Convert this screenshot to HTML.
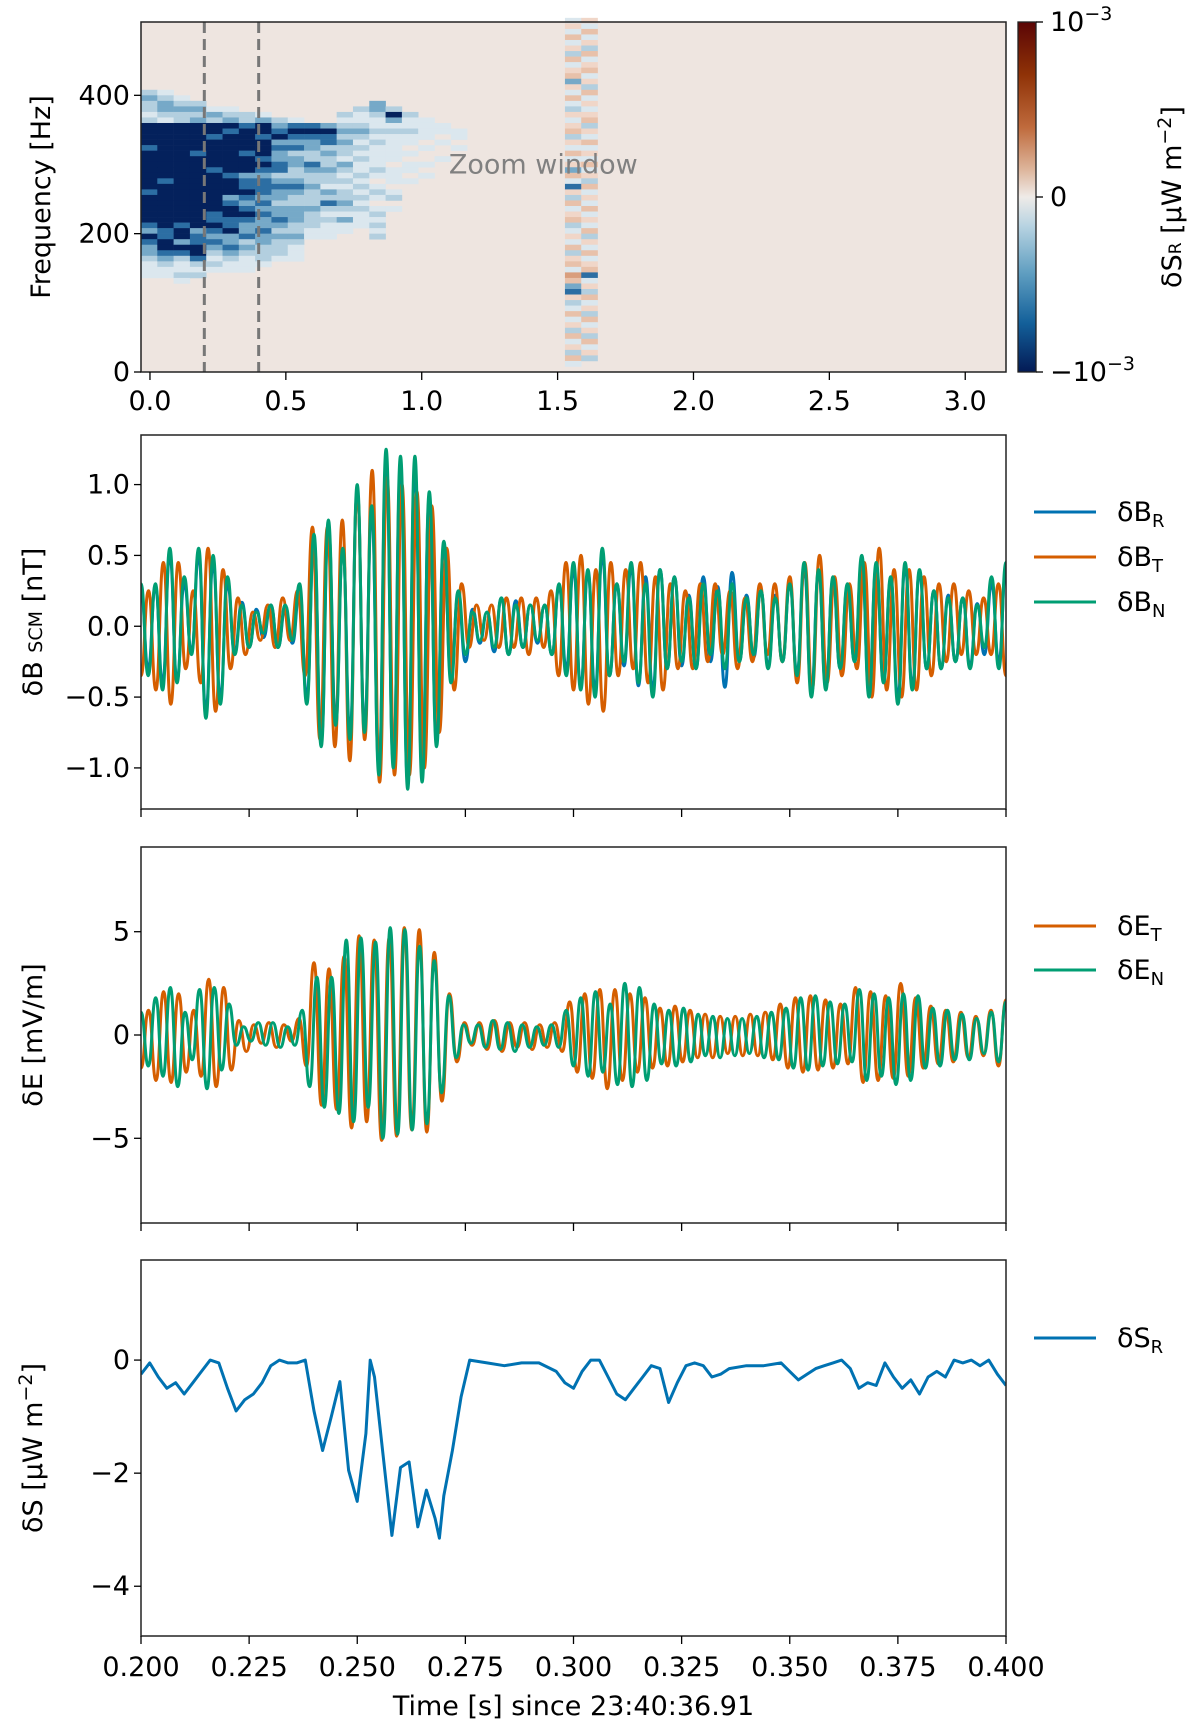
<!DOCTYPE html>
<html><head><meta charset="utf-8"><style>
html,body{margin:0;padding:0;background:#fff}
svg{display:block;font-family:"DejaVu Sans","Liberation Sans",sans-serif}
</style></head><body>
<svg id="fig" width="1200" height="1729" viewBox="0 0 1200 1729" xmlns="http://www.w3.org/2000/svg">
<defs>
<linearGradient id="cbg" x1="0" y1="0" x2="0" y2="1">
<stop offset="0" stop-color="#5a0505"/><stop offset="0.15" stop-color="#8f3207"/><stop offset="0.3" stop-color="#bf6a3c"/>
<stop offset="0.42" stop-color="#ddb49a"/><stop offset="0.5" stop-color="#efebe8"/><stop offset="0.58" stop-color="#b9d4e2"/>
<stop offset="0.72" stop-color="#5e9dc0"/><stop offset="0.86" stop-color="#13609a"/><stop offset="1" stop-color="#031a55"/>
</linearGradient>
</defs>
<g id="root"></g>
</svg>
<script>
// ---- data ----
const specColumns = [
"0000000000000232212555545555555455555435433211100000000000000000",
"0000000000000123321555555555545555555544554321100000000000000000",
"0000000000000012322555555555555555555455354211210000000000000000",
"0000000000000002323555554555555555555534455421200000000000000000",
"0000000000000000132554555554555555544543432121000000000000000000",
"0000000000000000123545555555455534554453343211000000000000000000",
"0000000000000000022455554555344543454334232111000000000000000000",
"0000000000000000013554555454344434343343322210000000000000000000",
"0000000000000000002345343344234332334323222100000000000000000000",
"0000000000000000001454342332234322333223211100000000000000000000",
"0000000000000000000454332243223222322211000000000000000000000000",
"0000000000000000000354423223221324212111000000000000000000000000",
"0000000000000000021232322132121223213110000000000000000000000000",
"0000000000000000211232121211212121211100000000000000000000000000",
"0000000000000003321121211112101210121212000000000000000000000000",
"0000000000000000253121111101110120100000000000000000000000000000",
"0000000000000000021121101011010000000000000000000000000000000000",
"0000000000000000001111010010100000000000000000000000000000000000",
"0000000000000000000110100100000000000000000000000000000000000000",
"0000000000000000000011010000000000000000000000000000000000000000",
"0000000000000000000000000000000000000000000000000000000000000000",
"0000000000000000000000000000000000000000000000000000000000000000",
"0000000000000000000000000000000000000000000000000000000000000000",
"0000000000000000000000000000000000000000000000000000000000000000",
"0000000000000000000000000000000000000000000000000000000000000000",
"0000000000000000000000000000000000000000000000000000000000000000",
"1a1b1a2b1ab3a1b12a1ab2a1b1a3b14a2b1ab21a1b2ab1cb34a21b1a2b1a2b10",
"a1b1a2b1ab1a2b1a1ab2a1b1a1b1a2b1a1b1a1b2a1b1ab41a2b1a2b1a2b1a200"
];
const bN = [0.30,-0.35,0.30,-0.45,0.55,-0.40,0.35,-0.20,0.55,-0.65,0.50,-0.55,0.35,
-0.20,0.15,-0.15,0.10,-0.05,0.15,-0.15,0.15,-0.10,0.30,
-0.55,0.65,-0.85,0.75,-0.70,0.55,-0.80,1.0,-0.75,0.85,-1.05,1.25,-1.0,1.2,-1.15,1.2,-1.1,0.95,-0.85,0.6,-0.4,0.25,-0.2,
0.10,-0.10,0.10,-0.15,0.2,-0.2,0.15,-0.15,0.15,-0.1,0.15,-0.2,0.3,-0.35,
0.45,-0.45,0.4,-0.5,0.55,-0.35,0.3,-0.25,0.45,-0.4,0.3,-0.5,0.4,-0.3,0.35,-0.25,0.2,-0.3,0.3,-0.2,0.25,-0.3,0.3,-0.25,0.2,-0.2,0.25,-0.3,0.2,-0.25,0.3,-0.35,0.45,-0.5,0.4,-0.45,0.35,-0.3,0.3,-0.25,0.5,-0.5,0.45,-0.4,0.35,-0.55,0.45,-0.45,0.4,-0.3,0.25,-0.3,0.2,-0.25,0.2,-0.3,0.15,-0.15,0.35,-0.3,0.45];
const bT = [-0.35,0.25,-0.45,0.45,-0.55,0.45,-0.30,0.25,-0.40,0.55,-0.60,0.40,-0.30,
0.20,-0.20,0.10,-0.10,0.15,-0.15,0.20,-0.10,0.25,-0.35,
0.70,-0.80,0.70,-0.85,0.75,-0.95,0.95,-0.80,1.10,-1.1,1.05,-1.05,1.0,-1.05,0.95,-1.0,0.85,-0.75,0.55,-0.45,0.3,-0.15,
0.15,-0.10,0.15,-0.15,0.2,-0.15,0.2,-0.2,0.2,-0.15,0.25,-0.35,0.45,
-0.45,0.5,-0.55,0.4,-0.6,0.45,-0.35,0.4,-0.3,0.45,-0.4,0.35,-0.45,0.3,-0.3,0.25,-0.3,0.3,-0.25,0.3,-0.2,0.25,-0.3,0.2,-0.25,0.3,-0.2,0.3,-0.25,0.35,-0.4,0.45,-0.45,0.5,-0.4,0.35,-0.35,0.3,-0.3,0.45,-0.5,0.55,-0.45,0.4,-0.5,0.4,-0.45,0.35,-0.35,0.3,-0.25,0.3,-0.2,0.25,-0.2,0.2,-0.2,0.3,-0.35];
const bR = [0.25,-0.30,0.28,-0.40,0.50,-0.38,0.30,-0.18,0.50,-0.60,0.45,-0.50,0.30,
-0.18,0.17,-0.15,0.12,-0.08,0.15,-0.15,0.12,-0.12,0.25,
-0.50,0.60,-0.80,0.70,-0.65,0.55,-0.75,0.95,-0.70,0.80,-1.0,1.15,-0.95,1.1,-1.1,1.1,-1.0,0.9,-0.8,0.55,-0.35,0.22,-0.25,
0.12,-0.12,0.10,-0.18,0.2,-0.2,0.18,-0.15,0.15,-0.12,0.15,-0.2,0.28,-0.3,
0.4,-0.42,0.38,-0.45,0.5,-0.35,0.3,-0.28,0.42,-0.42,0.35,-0.45,0.4,-0.3,0.35,-0.28,0.22,-0.3,0.35,-0.25,0.28,-0.43,0.38,-0.25,0.22,-0.22,0.25,-0.28,0.22,-0.25,0.3,-0.33,0.4,-0.45,0.38,-0.42,0.33,-0.3,0.28,-0.25,0.45,-0.45,0.42,-0.38,0.33,-0.5,0.42,-0.42,0.38,-0.3,0.25,-0.3,0.22,-0.25,0.2,-0.28,0.16,-0.2,0.3,-0.25,0.4];
const eN = [1.1,-1.5,1.8,-2.0,2.3,-2.5,1.1,-1.2,2.2,-2.6,2.3,-1.7,1.5,
-0.5,0.4,-0.3,0.6,-0.5,0.6,-0.6,0.4,-0.5,1.2,
-2.5,2.8,-3.5,2.8,-3.8,4.6,-4.2,4.7,-3.5,4.5,-5.0,5.2,-4.8,5.1,-4.6,4.3,-4.3,3.6,-2.8,1.9,-1.1,0.5,-0.4,
0.5,-0.6,0.7,-0.7,0.6,-0.8,0.5,-0.6,0.4,-0.5,0.5,-0.6,1.2,-1.5,
1.8,-2.0,2.1,-1.8,1.5,-2.4,2.5,-2.5,2.3,-2.2,1.5,-1.4,1.2,-1.5,1.3,-1.3,1.0,-1.0,0.9,-1.1,0.8,-1.0,0.8,-0.9,0.9,-1.1,1.1,-1.2,1.3,-1.6,1.8,-1.7,1.9,-1.5,1.6,-1.4,1.5,-1.3,2.2,-2.2,2.0,-2.0,1.8,-2.4,2.0,-2.2,1.9,-1.6,1.3,-1.5,1.2,-1.2,1.0,-1.2,0.8,-0.9,1.1,-1.3,1.6];
const eT = [-1.6,1.2,-2.2,2.1,-2.3,2.0,-1.8,1.2,-2.0,2.7,-2.5,2.3,-1.7,
0.7,-0.8,0.5,-0.4,0.6,-0.6,0.5,-0.3,0.8,-1.5,
3.5,-3.4,3.2,-3.6,3.8,-4.5,4.8,-4.2,4.6,-5.1,4.7,-4.9,5.2,-4.6,5.1,-4.7,4.0,-3.2,2.0,-1.3,0.6,-0.5,
0.6,-0.7,0.7,-0.8,0.6,-0.6,0.6,-0.7,0.5,-0.6,0.6,-0.8,1.6,-1.8,
2.0,-2.1,2.2,-2.6,2.2,-2.2,2.0,-1.8,1.8,-1.6,1.3,-1.5,1.4,-1.3,1.2,-1.1,1.0,-1.1,0.9,-0.9,0.9,-1.0,1.0,-1.0,1.1,-1.2,1.5,-1.6,1.8,-1.8,1.9,-1.7,1.7,-1.6,1.5,-1.4,2.3,-2.3,2.1,-2.2,1.9,-2.1,2.5,-2.0,1.8,-1.6,1.4,-1.4,1.2,-1.3,1.1,-1.1,0.9,-1.0,1.2,-1.5,1.7];
const sTimes = [0.200,0.202,0.204,0.206,0.208,0.210,0.212,0.214,0.216,0.218,0.220,0.222,0.224,0.226,0.228,0.230,0.232,0.234,0.236,0.238,0.240,0.242,0.244,0.246,0.248,0.250,0.252,0.253,0.254,0.256,0.258,0.260,0.262,0.264,0.266,0.268,0.269,0.270,0.272,0.274,0.276,0.280,0.284,0.288,0.292,0.296,0.298,0.300,0.302,0.304,0.306,0.308,0.310,0.312,0.314,0.316,0.318,0.320,0.322,0.324,0.326,0.328,0.330,0.332,0.334,0.336,0.340,0.344,0.348,0.350,0.352,0.354,0.356,0.358,0.360,0.362,0.364,0.366,0.368,0.370,0.372,0.374,0.376,0.378,0.380,0.382,0.384,0.386,0.388,0.390,0.392,0.394,0.396,0.398,0.400];
const sVals = [-0.25,-0.05,-0.3,-0.5,-0.4,-0.6,-0.4,-0.2,0.0,-0.05,-0.5,-0.9,-0.7,-0.6,-0.4,-0.1,0.0,-0.05,-0.05,0.0,-0.9,-1.6,-1.0,-0.38,-1.95,-2.5,-1.3,0.0,-0.3,-1.7,-3.1,-1.9,-1.8,-2.95,-2.3,-2.8,-3.15,-2.4,-1.6,-0.65,0.0,-0.05,-0.1,-0.05,-0.05,-0.2,-0.4,-0.5,-0.2,0.0,0.0,-0.3,-0.6,-0.7,-0.5,-0.3,-0.1,-0.15,-0.75,-0.4,-0.1,-0.05,-0.1,-0.3,-0.25,-0.15,-0.1,-0.1,-0.05,-0.2,-0.35,-0.25,-0.15,-0.1,-0.05,0.0,-0.15,-0.5,-0.4,-0.45,-0.05,-0.3,-0.5,-0.35,-0.6,-0.3,-0.2,-0.3,0.0,-0.05,0.0,-0.1,0.0,-0.25,-0.45];
const topXTicks = [0.0,0.5,1.0,1.5,2.0,2.5,3.0];
const topYTicks = [0,200,400];
const zoomTicks = [0.200,0.225,0.250,0.275,0.300,0.325,0.350,0.375,0.400];
const bTicks = [-1.0,-0.5,0.0,0.5,1.0];
const eTicks = [-5,0,5];
const sTicks = [-4,-2,0];

// ---- helpers ----
const NS="http://www.w3.org/2000/svg";
const root=document.getElementById('root');
function el(tag,attrs,parent){const e=document.createElementNS(NS,tag);for(const k in attrs)e.setAttribute(k,attrs[k]);(parent||root).appendChild(e);return e;}
const L=141,R=1006;
const FS=27;
function lin(d0,d1,r0,r1){return v=>r0+(v-d0)/(d1-d0)*(r1-r0);}

// ---- top spectrogram ----
const tx=lin(-0.033,3.15,L,R), ty=lin(0,506,372,22);
const gSpec=el('g',{});


el('rect',{x:L,y:22,width:R-L,height:350,fill:'#eee5e0'},gSpec);
const cmap={'1':'#dbe7ee','2':'#b3cfdf','3':'#76a9c8','4':'#2c6ea3','5':'#04215c','a':'#f0d6c8','b':'#e8c1aa','c':'#d99e7d'};
const colW=0.06,rowH=8;
specColumns.forEach((s,c)=>{const t0=-0.033+c*colW;
 for(let i=0;i<s.length;i++){const ch=s[i]; if(ch==='0')continue;
  const f1=512-i*rowH,f0=f1-rowH;
  const r=el('rect',{x:tx(t0),y:ty(f1),width:tx(t0+colW)-tx(t0)+0.3,height:ty(f0)-ty(f1)+0.3,fill:cmap[ch]},gSpec);
  
  
 }});
[0.2,0.4].forEach(v=>{const l=el('line',{x1:tx(v),x2:tx(v),y1:22,y2:372,stroke:'#777',"stroke-width":3,"stroke-dasharray":"11,6"});
 
 });
const zt=el('text',{x:tx(1.1),y:ty(300)+9,"font-size":27,fill:'#808080'});zt.textContent='Zoom window';


el('rect',{x:L,y:22,width:R-L,height:350,fill:'none',stroke:'#222',"stroke-width":1.5});
topXTicks.forEach(v=>{el('line',{x1:tx(v),x2:tx(v),y1:372,y2:380,stroke:'#000',"stroke-width":1.3});
 const t=el('text',{x:tx(v),y:410,"font-size":FS,"text-anchor":"middle"});t.textContent=v.toFixed(1);
 
 });
topYTicks.forEach(v=>{el('line',{x1:L,x2:L-7,y1:ty(v),y2:ty(v),stroke:'#000',"stroke-width":1.3});
 const t=el('text',{x:L-11,y:ty(v)+9,"font-size":FS,"text-anchor":"end"});t.textContent=v;
 
 });
const fy=el('text',{transform:'translate(50,197) rotate(-90)',"font-size":FS,"text-anchor":"middle"});fy.textContent='Frequency [Hz]';


// colorbar
const cb=el('rect',{x:1018,y:22,width:18,height:350,fill:'url(#cbg)',stroke:'#222',"stroke-width":1.3});


[[22,'10','−3'],[197,'0',''],[372,'−10','−3']].forEach(([y,a,b])=>{el('line',{x1:1036,x2:1043,y1:y,y2:y,stroke:'#000',"stroke-width":1.3});
 const t=el('text',{x:1050,y:y+9,"font-size":FS});t.textContent=a;
 if(b){const s=el('tspan',{dy:-11,"font-size":19});s.textContent=b;t.appendChild(s);}
 
 });
const cl=el('text',{transform:'translate(1181,197) rotate(-90)',"font-size":FS,"text-anchor":"middle"});
cl.innerHTML='δS<tspan font-size="17">R</tspan> [μW m<tspan dy="-10" font-size="19">−2</tspan><tspan dy="10">]</tspan>';



// ---- time-series panels ----
const zx=lin(0.2,0.4,L,R);
function smoothPath(vals,sy){const n=vals.length;const dt=0.2/(n-1);let d='';
 for(let i=0;i<n;i++){const x=zx(0.2+i*dt),y=sy(vals[i]);
  if(i===0)d+='M'+x.toFixed(1)+','+y.toFixed(1);
  else{const px=zx(0.2+(i-1)*dt),py=sy(vals[i-1]);const mx=(px+x)/2;
   d+=' C'+mx.toFixed(1)+','+py.toFixed(1)+' '+mx.toFixed(1)+','+y.toFixed(1)+' '+x.toFixed(1)+','+y.toFixed(1);}}
 return d;}
function panel(name,top,bot,d0,d1,ticks,fmt,ylab,series,legend,showX){
 const sy=lin(d0,d1,bot,top);
 const g=el('g',{});
 const cp='clip-'+name;const c=el('clipPath',{id:cp},g);el('rect',{x:L,y:top,width:R-L,height:bot-top},c);
 series.forEach(s=>{const p=el('path',{d:s.d(sy),fill:'none',stroke:s.color,"stroke-width":3,"stroke-linejoin":"round","clip-path":'url(#'+cp+')'},g);
  
  });
 el('rect',{x:L,y:top,width:R-L,height:bot-top,fill:'none',stroke:'#222',"stroke-width":1.5},g);
 ticks.forEach(v=>{el('line',{x1:L,x2:L-7,y1:sy(v),y2:sy(v),stroke:'#000',"stroke-width":1.3},g);
  const t=el('text',{x:L-11,y:sy(v)+9,"font-size":FS,"text-anchor":"end"},g);t.textContent=fmt(v);
  
  });
 zoomTicks.forEach(v=>{el('line',{x1:zx(v),x2:zx(v),y1:bot,y2:bot+8,stroke:'#000',"stroke-width":1.3},g);
  if(showX){const t=el('text',{x:zx(v),y:bot+40,"font-size":FS,"text-anchor":"middle"},g);t.textContent=v.toFixed(3);
   
   }});
 const yl=el('text',{transform:'translate(42,'+((top+bot)/2)+') rotate(-90)',"font-size":FS,"text-anchor":"middle"},g);yl.innerHTML=ylab;
 
 
 legend.forEach(([y,color,a,b])=>{const lg=el('g',{},g);
  el('line',{x1:1034,x2:1096,y1:y,y2:y,stroke:color,"stroke-width":3},lg);
  const t=el('text',{x:1117,y:y+9,"font-size":FS},lg);t.innerHTML=a+'<tspan dy="6" font-size="18">'+b+'</tspan>';});
}
const fmtB=v=>(v<0?'−':'')+Math.abs(v).toFixed(1);
const fmtI=v=>(v<0?'−':'')+Math.abs(v);
const BLUE='#0072b2',ORANGE='#d55e00',GREEN='#009e73';
panel('db-panel',435,809,-1.29,1.35,bTicks,fmtB,'δB <tspan font-size="19">SCM</tspan> [nT]',
 [{name:'line-dBR',color:BLUE,d:sy=>smoothPath(bR,sy)},{name:'line-dBT',color:ORANGE,d:sy=>smoothPath(bT,sy)},{name:'line-dBN',color:GREEN,d:sy=>smoothPath(bN,sy)}],
 [[512,BLUE,'δB','R'],[557,ORANGE,'δB','T'],[602,GREEN,'δB','N']],false);
panel('de-panel',847,1223,-9.1,9.1,eTicks,fmtI,'δE [mV/m]',
 [{name:'line-dET',color:ORANGE,d:sy=>smoothPath(eT,sy)},{name:'line-dEN',color:GREEN,d:sy=>smoothPath(eN,sy)}],
 [[926,ORANGE,'δE','T'],[970,GREEN,'δE','N']],false);
panel('ds-panel',1260,1636,-4.88,1.77,sTicks,fmtI,'δS [μW m<tspan dy="-10" font-size="19">−2</tspan><tspan dy="10">]</tspan>',
 [{name:'line-dSR',color:BLUE,d:sy=>sTimes.map((t,i)=>(i?'L':'M')+zx(t).toFixed(1)+','+sy(sVals[i]).toFixed(1)).join(' ')}],
 [[1338,BLUE,'δS','R']],true);
const xt=el('text',{x:(L+R)/2,y:1715,"font-size":FS,"text-anchor":"middle"});xt.textContent='Time [s] since 23:40:36.91';


</script>
</body></html>
